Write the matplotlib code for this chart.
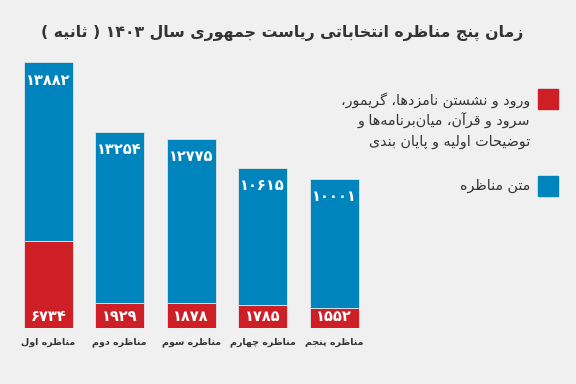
import matplotlib
matplotlib.use("Agg")
import matplotlib.pyplot as plt
from matplotlib.patches import Rectangle

# data
categories = ["مناظره اول", "مناظره دوم", "مناظره سوم", "مناظره چهارم", "مناظره پنجم"]
intro_vals = [6734, 1929, 1878, 1785, 1552]        # red part
debate_vals = [13882, 13254, 12775, 10615, 10001]  # blue part
title = "زمان پنج مناظره انتخاباتی ریاست جمهوری سال ۱۴۰۳ ( ثانیه )"
legend_red = ["ورود و نشستن نامزدها، گریمور،",
              "سرود و قرآن، میان\u200cبرنامه\u200cها و",
              "توضیحات اولیه و پایان بندی"]
legend_blue = "متن مناظره"

RED = "#cf1f26"
BLUE = "#0084bd"
BG = "#f0f0f0"
TXT = "#333333"

# --- small persian shaper (matplotlib has no bidi / joining) ---
# isolated, final, initial, medial
FORMS = {
    "ا": (0xFE8D, 0xFE8E), "آ": (0xFE81, 0xFE82),
    "د": (0xFEA9, 0xFEAA), "ذ": (0xFEAB, 0xFEAC), "ر": (0xFEAD, 0xFEAE),
    "ز": (0xFEAF, 0xFEB0), "ژ": (0xFB8A, 0xFB8B), "و": (0xFEED, 0xFEEE),
    "ب": (0xFE8F, 0xFE90, 0xFE91, 0xFE92), "پ": (0xFB56, 0xFB57, 0xFB58, 0xFB59),
    "ت": (0xFE95, 0xFE96, 0xFE97, 0xFE98), "ث": (0xFE99, 0xFE9A, 0xFE9B, 0xFE9C),
    "ج": (0xFE9D, 0xFE9E, 0xFE9F, 0xFEA0), "چ": (0xFB7A, 0xFB7B, 0xFB7C, 0xFB7D),
    "ح": (0xFEA1, 0xFEA2, 0xFEA3, 0xFEA4), "خ": (0xFEA5, 0xFEA6, 0xFEA7, 0xFEA8),
    "س": (0xFEB1, 0xFEB2, 0xFEB3, 0xFEB4), "ش": (0xFEB5, 0xFEB6, 0xFEB7, 0xFEB8),
    "ص": (0xFEB9, 0xFEBA, 0xFEBB, 0xFEBC), "ض": (0xFEBD, 0xFEBE, 0xFEBF, 0xFEC0),
    "ط": (0xFEC1, 0xFEC2, 0xFEC3, 0xFEC4), "ظ": (0xFEC5, 0xFEC6, 0xFEC7, 0xFEC8),
    "ع": (0xFEC9, 0xFECA, 0xFECB, 0xFECC), "غ": (0xFECD, 0xFECE, 0xFECF, 0xFED0),
    "ف": (0xFED1, 0xFED2, 0xFED3, 0xFED4), "ق": (0xFED5, 0xFED6, 0xFED7, 0xFED8),
    "ک": (0xFB8E, 0xFB8F, 0xFB90, 0xFB91), "گ": (0xFB92, 0xFB93, 0xFB94, 0xFB95),
    "ل": (0xFEDD, 0xFEDE, 0xFEDF, 0xFEE0), "م": (0xFEE1, 0xFEE2, 0xFEE3, 0xFEE4),
    "ن": (0xFEE5, 0xFEE6, 0xFEE7, 0xFEE8), "ه": (0xFEE9, 0xFEEA, 0xFEEB, 0xFEEC),
    "ی": (0xFBFC, 0xFBFD, 0xFBFE, 0xFBFF),
}
MIRROR = {"(": ")", ")": "("}


def fa(s):
    out = []
    for i, ch in enumerate(s):
        if ch not in FORMS:
            out.append(ch)
            continue
        prev = s[i - 1] if i > 0 else ""
        nxt = s[i + 1] if i + 1 < len(s) else ""
        jp = prev in FORMS and len(FORMS[prev]) == 4
        jn = len(FORMS[ch]) == 4 and nxt in FORMS
        f = FORMS[ch]
        if jp and jn:
            c = f[3]
        elif jp:
            c = f[1]
        elif jn:
            c = f[2]
        else:
            c = f[0]
        out.append(chr(c))
    shaped = "".join(c for c in out if c != "\u200c")
    # reverse, keeping digit runs left-to-right
    runs, cur = [], ""
    for c in shaped:
        if c.isdigit():
            cur += c
        else:
            if cur:
                runs.append(cur)
                cur = ""
            runs.append(MIRROR.get(c, c))
    if cur:
        runs.append(cur)
    return "".join(runs[::-1])


def fanum(n):
    return fa("".join(chr(0x06F0 + int(d)) for d in str(n)))


plt.rcParams["font.family"] = ["DejaVu Sans"]

fig = plt.figure(figsize=(5.76, 3.84), dpi=100, facecolor=BG)
W, H = 576, 384
ax = fig.add_axes([12.45 / W, (H - 327.5) / H, 357.5 / W, 283.3 / H])
ax.set_facecolor(BG)
x = list(range(len(categories)))
ax.bar(x, intro_vals, width=0.685, color=RED, edgecolor="#e6e6e6", linewidth=0.6)
ax.bar(x, debate_vals, width=0.685, bottom=intro_vals, color=BLUE,
       edgecolor="#e6e6e6", linewidth=0.6)
ax.set_xlim(-0.5, 4.5)
ax.set_ylim(0, 22000)
ax.axis("off")

for i in x:
    top = intro_vals[i] + debate_vals[i]
    ax.annotate(fanum(debate_vals[i]), (i, top), xytext=(0, -18),
                textcoords="offset pixels", ha="center", va="center",
                color="white", fontsize=10.5, fontweight="bold")
    ax.annotate(fanum(intro_vals[i]), (i, 0), xytext=(0, 11),
                textcoords="offset pixels", ha="center", va="center",
                color="white", fontsize=10.5, fontweight="bold")
    ax.annotate(fa(categories[i]), (i, 0), xytext=(0, -15),
                textcoords="offset pixels", ha="center", va="center",
                color=TXT, fontsize=6.8, fontweight="bold")

fig.text(523 / W, 1 - 33 / H, fa(title), ha="right", va="center",
         fontsize=11.3, fontweight="bold", color=TXT)

# legend
fig.add_artist(Rectangle((538 / W, 1 - 109 / H), 20 / W, 20 / H,
                         transform=fig.transFigure, color=RED))
fig.add_artist(Rectangle((538 / W, 1 - 196 / H), 20 / W, 20 / H,
                         transform=fig.transFigure, color=BLUE))
for k, line in enumerate(legend_red):
    fig.text(530 / W, 1 - (100 + 21 * k) / H, fa(line), ha="right", va="center",
             fontsize=10.3, color=TXT)
fig.text(530 / W, 1 - 186 / H, fa(legend_blue), ha="right", va="center",
         fontsize=10.3, color=TXT)

fig.savefig("out.png", dpi=100, facecolor=BG)
